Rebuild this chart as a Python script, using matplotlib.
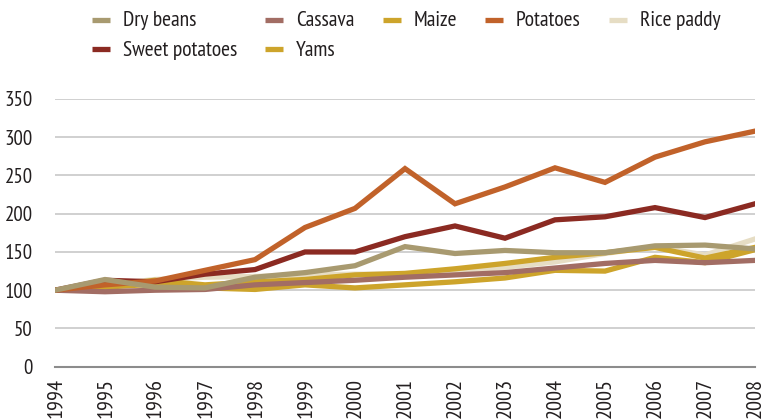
import matplotlib
matplotlib.use("Agg")
import matplotlib.pyplot as plt
from matplotlib import font_manager
from matplotlib.lines import Line2D

years = list(range(1994, 2009))
dry_beans = [100, 114, 104, 103, 117, 123, 132, 157, 148, 152, 149, 149, 158, 159, 154]
cassava = [100, 98, 100, 101, 107, 110, 113, 117, 120, 123, 129, 135, 139, 136, 139]
maize = [100, 105, 113, 107, 111, 114, 120, 122, 128, 135, 143, 149, 156, 142, 156]
potatoes = [100, 107, 112, 126, 140, 182, 207, 259, 213, 235, 260, 241, 274, 294, 308]
rice_paddy = [100, 107, 114, 117, 118, 120, 121, 121, 124, 130, 137, 148, 157, 146, 167]
sweet_potatoes = [100, 113, 111, 121, 127, 150, 150, 170, 184, 168, 192, 196, 208, 195, 213]
yams = [100, 104, 108, 103, 101, 107, 103, 107, 111, 116, 126, 125, 143, 136, 153]

names = ["Dry beans", "Cassava", "Maize", "Potatoes", "Rice paddy", "Sweet potatoes", "Yams"]
series = [dry_beans, cassava, maize, potatoes, rice_paddy, sweet_potatoes, yams]
colors = ["#A89A70", "#A26D64", "#CDA42B", "#C1622A", "#E6DDC4", "#8B2A22", "#CDA42B"]
yticks = [0, 50, 100, 150, 200, 250, 300, 350]

avail = {f.name for f in font_manager.fontManager.ttflist}
prefs = ["PT Sans Narrow", "Open Sans Condensed", "Roboto Condensed", "Fira Sans Condensed",
         "Archivo Narrow", "Liberation Sans Narrow"]
fam = next((p for p in prefs if p in avail), "DejaVu Sans")
plt.rcParams['font.family'] = [fam, 'DejaVu Sans']

W, H = 763, 419
fig = plt.figure(figsize=(W/100, H/100), dpi=100)
ax = fig.add_axes([55/W, 1-366.7/H, 700/W, (366.7-99)/H])

draw_order = [4, 6, 2, 1, 5, 3, 0]
for i in draw_order:
    ax.plot(years, series[i], color=colors[i], lw=3.8, solid_joinstyle='miter',
            label=names[i], zorder=3)

ax.set_xlim(1994, 2008)
ax.set_ylim(0, 350)
ax.set_yticks(yticks)
ax.set_xticks(years)
ax.set_xticklabels([str(y) for y in years], rotation=90, fontsize=16, color="#231F20")
ax.tick_params(axis='y', labelsize=15, colors="#231F20", length=0, pad=16)
ax.tick_params(axis='x', length=0, pad=8)
ax.grid(axis='y', color="#C8C8C8", lw=1.2)
ax.set_axisbelow(True)
for s in ['top', 'right', 'left']:
    ax.spines[s].set_visible(False)
ax.spines['bottom'].set_color("#8C8C8C")
ax.spines['bottom'].set_linewidth(1.5)

# Legend laid out in two rows like the reference
leg_x = [92, 265, 383, 485, 609]          # handle left edges (px)
leg_rows = [20, 49]                        # handle centre lines (px from top)
for k, (name, col) in enumerate(zip(names, colors)):
    r, c = divmod(k, 5)
    x0 = leg_x[c]
    y = leg_rows[r]
    fig.add_artist(Line2D([x0/W, (x0+18)/W], [1-y/H, 1-y/H], transform=fig.transFigure,
                          color=col, lw=3.8, solid_capstyle='butt'))
    fig.text((x0+31)/W, 1-(y+6.5)/H, name, fontsize=15.5, color="#231F20",
             ha='left', va='baseline')

fig.savefig("out.png", dpi=100)
